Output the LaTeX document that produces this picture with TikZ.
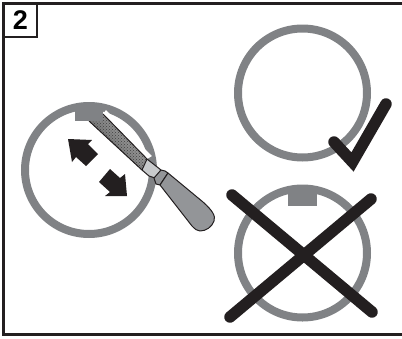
\documentclass[tikz,border=0pt]{standalone}
\usepackage{fontspec}
\setmainfont{Liberation Sans}
\usetikzlibrary{patterns}
\definecolor{ringgray}{HTML}{808285}
\definecolor{inkblack}{HTML}{231F20}
\definecolor{handlegray}{HTML}{939598}
\definecolor{ferrule}{HTML}{C8CACC}
\tikzset{
  ring/.style={draw=ringgray,line width=8pt},
  tab/.style={fill=ringgray},
  heavy/.style={draw=inkblack,line width=11.5pt,line cap=round},
  fileline/.style={draw=inkblack,line width=1pt,line join=round},
  bigarrow/.style={fill=inkblack}
}
\begin{document}
\begin{tikzpicture}[x=1pt,y=-1pt]
\useasboundingbox (0,0) rectangle (402,338);
% frame
\draw[inkblack,line width=3pt] (402,3.5) -- (3.5,3.5) -- (3.5,334.5) -- (402,334.5);
\node[draw=inkblack,line width=2pt,fill=white,minimum width=33pt,minimum height=33pt,inner sep=0pt,font=\bfseries\fontsize{27}{27}\selectfont] (num) at (20.5,20.5) {2};
% rings
\draw[ring] (89,170) circle (64);
\draw[ring] (302.5,93) circle (64.5);
\draw[ring] (302.5,253) circle (64.5);
% file
\fill[white] (103,114) -- (106,110) -- (152,156) -- (147,159) -- cycle;
\fill[top color=black!30,bottom color=black!65,shading angle=-50] (89,121) -- (103,114) -- (147,159) -- (142,170) -- cycle;
\fill[pattern=crosshatch dots,pattern color=black!75] (89,121) -- (103,114) -- (147,159) -- (142,170) -- cycle;
\draw[fileline] (89,121) -- (142,170);
\draw[fileline] (103,114) -- (147,159);
\draw[fileline,fill=ferrule] (147,159) -- (161,170) -- (155,178) -- (149,176) -- (142,170) -- cycle;
\draw[fileline,fill=handlegray] (161,170) -- (165,171) -- (168,173) -- (160,185) -- (156,184) -- (154,178) -- cycle;
\draw[fileline,fill=handlegray] (168,173) -- (203,202) .. controls (212,210) and (216,216) .. (214,221) .. controls (212,227) and (206,231) .. (200,231) .. controls (197,231) and (195,229) .. (192,226) -- (160,185) -- cycle;
% tabs
\fill[tab] (75,104) rectangle (103,121);
\fill[tab] (288,187) rectangle (317,206);
% arrows
\fill[bigarrow] (68,139) -- (92,140) -- (88,144) -- (98,154) -- (86,166) -- (76,157) -- (72,162) -- cycle;
\fill[bigarrow] (127,196) -- (105,196) -- (110,192) -- (99,182) -- (110,169) -- (120,178) -- (125,174) -- cycle;
% check
\draw[heavy,line cap=round,line join=miter,miter limit=10] (334,142) -- (352.5,162) -- (386,104);
% cross
\draw[heavy] (232,195) -- (372,312);
\draw[heavy] (371,199) -- (230,317);
\end{tikzpicture}
\end{document}
